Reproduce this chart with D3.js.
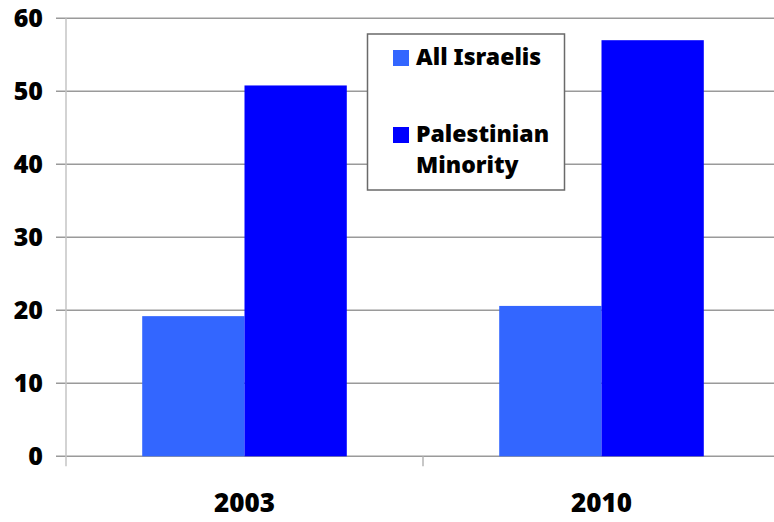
<!DOCTYPE html>
<html><head><meta charset="utf-8">
<script src="https://cdn.jsdelivr.net/npm/d3@7"></script>
<style>
html,body{margin:0;padding:0;background:#fff;}
svg text{font-family:"Noto Sans",sans-serif;font-weight:900;fill:#000;}
</style></head>
<body><svg id="c" width="774" height="522"></svg>
<script>
const categories = ["2003", "2010"];
const seriesNames = ["All Israelis", "Palestinian Minority"];
const allIsraelis = [19.2, 20.6];
const palestinianMinority = [50.8, 57.0];
const yTicks = [0, 10, 20, 30, 40, 50, 60];
const colors = ["#3366FF", "#0000FF"];

const seriesValues = [allIsraelis, palestinianMinority];
const svg = d3.select("#c");

const y = d3.scaleLinear().domain([0, 60]).range([456.3, 18.3]);
const x0 = d3.scaleBand().domain(categories).range([66, 780]).paddingInner(0).paddingOuter(0);
const x1 = d3.scaleBand().domain(seriesNames).range([0, x0.bandwidth()]).paddingInner(0).paddingOuter(0.745);

// gridlines
svg.append("g").selectAll("line").data(yTicks).join("line")
  .attr("x1", 56).attr("x2", 774)
  .attr("y1", d => y(d)).attr("y2", d => y(d))
  .attr("stroke", "#9a9a9a").attr("stroke-width", 1.5);

// y axis line
svg.append("line").attr("x1", 66).attr("x2", 66).attr("y1", y(60)).attr("y2", y(0) + 10)
  .attr("stroke", "#c4c4c4").attr("stroke-width", 1.5);

// category ticks
svg.append("g").selectAll("line").data(categories.slice(1)).join("line")
  .attr("x1", d => x0(d)).attr("x2", d => x0(d))
  .attr("y1", y(0)).attr("y2", y(0) + 10)
  .attr("stroke", "#b4b4b4").attr("stroke-width", 1.5);

// y labels
svg.append("g").selectAll("text").data(yTicks).join("text")
  .attr("x", 43).attr("y", d => y(d)).attr("dy", "0.36em")
  .attr("text-anchor", "end").attr("font-size", 25)
  .text(d => d);

// bars
const groups = svg.append("g").selectAll("g").data(categories).join("g")
  .attr("transform", d => `translate(${x0(d)},0)`);
groups.selectAll("rect").data((d, i) => seriesNames.map((s, j) => ({s, v: seriesValues[j][i], j})))
  .join("rect")
  .attr("x", d => x1(d.s)).attr("width", x1.bandwidth())
  .attr("y", d => y(d.v)).attr("height", d => y(0) - y(d.v))
  .attr("fill", d => colors[d.j]);

// x labels
svg.append("g").selectAll("text").data(categories).join("text")
  .attr("x", d => x0(d) + x0.bandwidth() / 2).attr("y", 512)
  .attr("text-anchor", "middle").attr("font-size", 26)
  .text(d => d);

// legend
const lg = svg.append("g");
lg.append("rect").attr("x", 367.5).attr("y", 34).attr("width", 197).attr("height", 156)
  .attr("fill", "#fff").attr("stroke", "#6a6a6a").attr("stroke-width", 1.5);
const legendRows = [
  {name: seriesNames[0], lines: ["All Israelis"], sy: 50, base: 65},
  {name: seriesNames[1], lines: ["Palestinian", "Minority"], sy: 127, base: 141.7}
];
legendRows.forEach((r, i) => {
  lg.append("rect").attr("x", 393).attr("y", r.sy).attr("width", 16).attr("height", 16)
    .attr("fill", colors[i]);
  const t = lg.append("text").attr("x", 416).attr("y", r.base).attr("font-size", 23);
  r.lines.forEach((l, k) => t.append("tspan").attr("x", 416).attr("dy", k === 0 ? 0 : 31.3).text(l));
});
</script></body></html>
